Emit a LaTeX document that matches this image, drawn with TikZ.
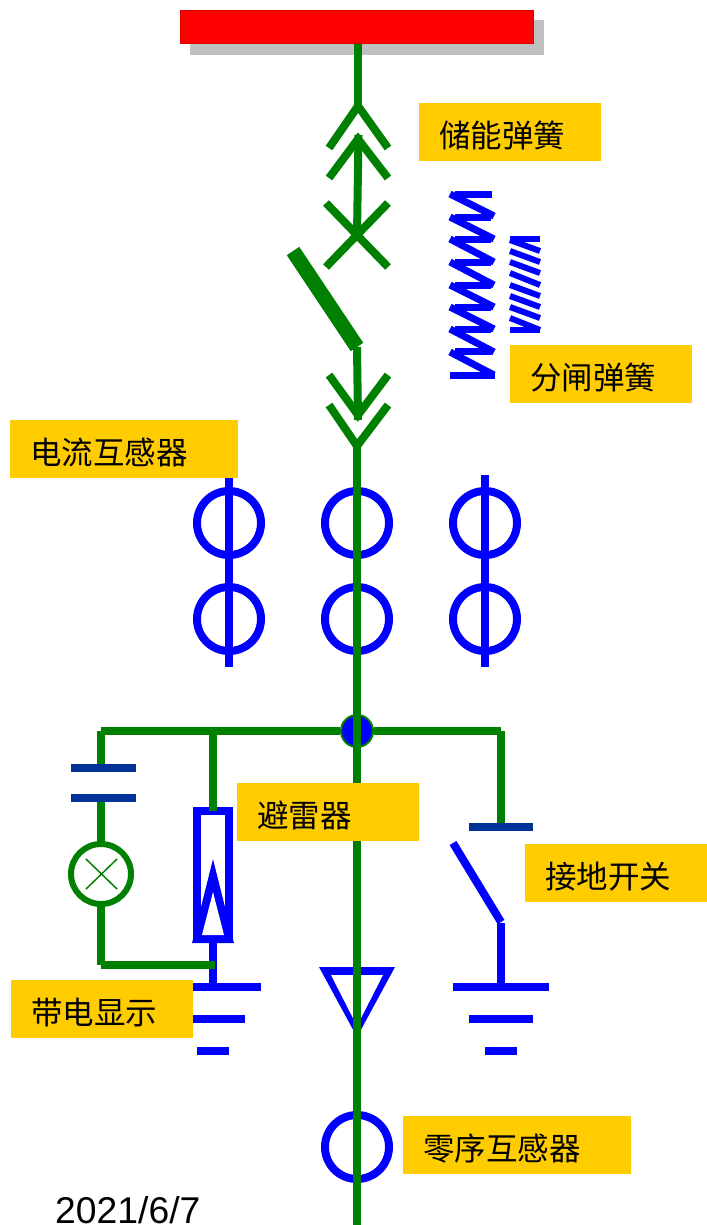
\documentclass[tikz,border=0pt]{standalone}
\usepackage{fontspec}
\setmainfont{Liberation Sans}
\newfontfamily\cjk{Noto Sans CJK SC}
\definecolor{wire}{RGB}{0,128,0}
\definecolor{blu}{RGB}{0,0,255}
\definecolor{navy2}{RGB}{0,51,153}
\definecolor{lab}{RGB}{255,204,0}
\definecolor{shad}{RGB}{192,192,192}
\newcommand{\tagtxt}[1]{\raisebox{-15bp}[8bp][8bp]{#1}}
\tikzset{
 gw/.style={draw=wire,line width=8bp,line cap=butt},
 bw/.style={draw=blu,line width=8bp,line cap=butt},
 nw/.style={draw=navy2,line width=8bp,line cap=butt},
 sp/.style={draw=blu,line width=7bp,line cap=butt,line join=miter},
 ssp/.style={draw=blu,line width=6bp,line cap=butt,line join=miter},
 ring/.style={draw=blu,line width=8bp,circle,minimum size=64bp,inner sep=0pt},
 tag/.style={fill=lab,anchor=north west,inner xsep=20bp,inner ysep=0pt,minimum height=58bp,align=left,font=\cjk\fontsize{31.5bp}{33bp}\selectfont},
 short/.style={tag,text width=142bp},
 long/.style={tag,text width=188bp},
}
\begin{document}
\begin{tikzpicture}[x=1bp,y=-1bp]
\useasboundingbox (0,0) rectangle (707,1225);
\fill[white] (0,0) rectangle (707,1225);
% bus bar
\fill[shad] (190,20) rectangle (544,55);
\node[fill=red,draw=red!85!black,line width=1bp,outer sep=0pt,anchor=north west,minimum width=353bp,minimum height=33bp,inner sep=0pt] (bus) at (180.5,10.5) {};
% upper contact
\coordinate (u1) at (358,106);
\coordinate (u2) at (358,139);
\coordinate (xc) at (357,235);
\draw[gw] (bus.south -| u1) -- (u1);
\draw[gw,line join=miter] (329,148) -- (u1) -- (388,148);
\draw[gw,line join=miter] (329,178) -- (u2) -- (388,178);
\draw[gw] (358.5,135) -- (xc);
\draw[gw] (326,203) -- (388,267);
\draw[gw] (388,203) -- (326,267);
% blade
\coordinate (bt) at (293,251);
\coordinate (bb) at (357,347);
\draw[gw,line width=15bp] (bt) -- (bb);
% lower contact
\coordinate (l1) at (358,415);
\coordinate (l2) at (357,446);
\draw[gw] (bb) -- (358,420);
\draw[gw,line join=miter] (329,375) -- (l1) -- (388,375);
\draw[gw,line join=miter] (329,405) -- (l2) -- (388,405);
% large spring
\draw[sp] (492,194) -- (455,194);
\foreach \a/\b in {194/216,217/239,239/262,262/285,285/307,307/329,329/352,352/375}
  \draw[sp] (450,\a) -- (494,\b);
\foreach \y in {217,239,262,285,307,329,351}
  \draw[sp] (491,\y) -- (455,\y);
\draw[sp] (450,375) -- (495,375);
% small spring
\draw[ssp] (510,239) -- (540,239);
\foreach \a/\b in {240/251,251/262,262/273,273/285,285/296,296/307,307/318,318/330}
  \draw[ssp] (510,\a) -- (540,\b);
\draw[ssp] (510,330) -- (540,330);
% current transformers
\draw[bw] (229,478) -- (229,667);
\draw[bw] (485,475) -- (485,667);
\foreach \n/\x/\y in {ca/229/523,cb/357/523,cc/485/523,cd/229/619,ce/357/619,cf/485/619}
  \node[ring] (\n) at (\x,\y) {};
\node[ring] (zct) at (357,1147) {};
% neutral triangle
\fill[blu] (319,967) -- (395,967) -- (357,1037) -- cycle;
\fill[white] (331,975) -- (383,975) -- (357,1026) -- cycle;
% main wire
\draw[gw] (l2) -- (357,1225);
% branch
\node[circle,fill=blu,draw=wire,line width=2bp,minimum size=32bp,inner sep=0pt] (j) at (357,731) {};
\draw[gw] (357,715) -- (357,747);
\coordinate (lc) at (101,731);
\coordinate (rc) at (501,731);
\draw[gw] (lc) -- (j);
\draw[gw] (j) -- (rc);
% left branch: capacitor and lamp
\draw[gw] (101,731) -- (101,768);
\draw[gw] (101,799) -- (101,845);
\draw[nw] (71,768) -- (136,768);
\draw[nw] (71,798) -- (136,798);
\node[circle,draw=wire,fill=white,line width=6bp,minimum size=60bp,inner sep=0pt] (lamp) at (101,874) {};
\draw[wire,line width=1.5bp] (86,859) -- (117,889);
\draw[wire,line width=1.5bp] (117,859) -- (86,889);
\draw[gw] (lamp.south) -- (101,965);
% arrester
\draw[blu,line width=8bp] (197,811) rectangle (229,939);
\fill[blu] (192,943) -- (213,859) -- (234,943) -- cycle;
\fill[white] (202,935) -- (213,892) -- (224,935) -- cycle;
\draw[gw] (213,731) -- (213,811);
\draw[bw] (213,943) -- (213,987);
\draw[gw] (101,965) -- (215,965);
% grounds
\draw[bw] (165,987) -- (261,987);
\draw[bw] (181,1019) -- (245,1019);
\draw[bw] (197,1051) -- (229,1051);
\draw[bw] (453,987) -- (549,987);
\draw[bw] (469,1019) -- (533,1019);
\draw[bw] (485,1051) -- (517,1051);
% earthing switch
\draw[gw] (501,731) -- (501,824);
\draw[nw] (469,827) -- (533,827);
\draw[bw] (453,843) -- (501,922);
\draw[bw] (501,923) -- (501,987);
% labels
\node[short] (t1) at (419,103) {\tagtxt{储能弹簧}};
\node[short] (t2) at (510,345) {\tagtxt{分闸弹簧}};
\node[long]  (t3) at (10,420) {\tagtxt{电流互感器}};
\node[short] (t4) at (237,783) {\tagtxt{避雷器}};
\node[short] (t5) at (525,844) {\tagtxt{接地开关}};
\node[short] (t6) at (11,980) {\tagtxt{带电显示}};
\node[long]  (t7) at (403,1116) {\tagtxt{零序互感器}};
\node[anchor=base west,inner sep=0pt,font=\fontsize{37.3bp}{40bp}\selectfont,text=black] (date) at (55,1223) {2021/6/7};
\end{tikzpicture}
\end{document}
